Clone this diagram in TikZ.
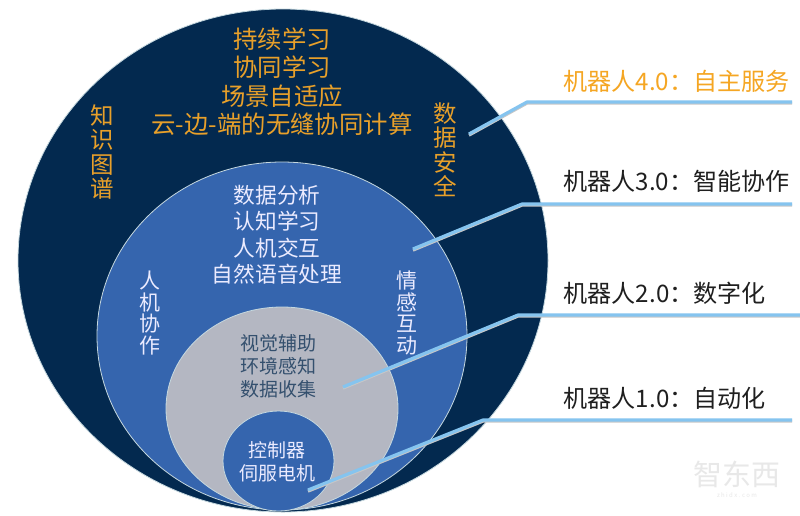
\documentclass[tikz,border=0pt]{standalone}
\usepackage{fontspec}
\setmainfont{Noto Sans CJK SC}
\definecolor{navy}{HTML}{03294F}
\definecolor{midblue}{HTML}{3565AE}
\definecolor{pale}{HTML}{B4B7C2}
\definecolor{gold}{HTML}{E8A02A}
\definecolor{labelgold}{HTML}{F5A623}
\definecolor{sky}{HTML}{85C4EF}
\definecolor{ringline}{HTML}{C5D8DF}
\definecolor{slate}{HTML}{34506E}
\tikzset{
  x=1pt,y=-1pt,
  ring/.style={draw=ringline,line width=0.8pt},
  lead/.style={draw=sky,line width=3.2pt,line join=round},
  leadshadow/.style={draw=black!22,line width=3pt,line join=round},
  gtext/.style={text=gold,font=\fontsize{24.4}{28.5}\selectfont,align=center,inner sep=0pt},
  gvert/.style={text=gold,font=\fontsize{23.5}{24.5}\selectfont,align=center,inner sep=0pt},
  wtext/.style={text=white!92!blue,font=\fontsize{21.7}{26.5}\selectfont,align=center,inner sep=0pt},
  wvert/.style={text=white!92!blue,font=\fontsize{21}{21.5}\selectfont,align=center,inner sep=0pt},
  dtext/.style={font=\fontsize{19}{23}\selectfont,align=center,inner sep=0pt},
  ltext/.style={font=\fontsize{24.1}{26}\selectfont,anchor=east,inner sep=0pt},
}
\begin{document}
\begin{tikzpicture}
\useasboundingbox (0,0) rectangle (800,515);
\fill[white] (0,0) rectangle (800,515);
\draw[ring,fill=navy] (283,260.5) ellipse [x radius=265,y radius=251.5];
\draw[ring,fill=midblue] (282,336) ellipse [x radius=185,y radius=174];
\draw[ring,fill=pale] (282,408.5) ellipse [x radius=116,y radius=101.5];
\draw[ring,fill=midblue] (278.5,461) ellipse [x radius=55.5,y radius=50];
\node[gtext] (t4) at (282,81.5) {持续学习\\协同学习\\场景自适应\\云-边-端的无缝协同计算};
\node[gvert] (k) at (102,152) {知\\识\\图\\谱};
\node[gvert] (d) at (445,149.5) {数\\据\\安\\全};
\node[wtext] (t3) at (277,235) {数据分析\\认知学习\\人机交互\\自然语音处理};
\node[wvert] (r) at (150,313) {人\\机\\协\\作};
\node[wvert] (q) at (407,313) {情\\感\\互\\动};
\node[dtext,text=slate] (t2) at (278,366) {视觉辅助\\环境感知\\数据收集};
\node[dtext,text=white!92!blue] (t1) at (277,462) {控制器\\伺服电机};
\node[ltext,text=labelgold] (l4) at (790,81) {机器人4.0：自主服务};
\node[ltext,text=black!88] (l3) at (790,181) {机器人3.0：智能协作};
\node[ltext,text=black!88] (l2) at (766,293) {机器人2.0：数字化};
\node[ltext,text=black!88] (l1) at (766,398) {机器人1.0：自动化};
\coordinate (a4) at (469,134); \coordinate (b4) at (527,102); \coordinate (c4) at (792,102);
\coordinate (a3) at (413,249); \coordinate (b3) at (522,204); \coordinate (c3) at (792,204);
\coordinate (a2) at (343,387); \coordinate (b2) at (518,315); \coordinate (c2) at (800,315);
\coordinate (a1) at (308,490); \coordinate (b1) at (483,420); \coordinate (c1) at (792,420);
\foreach \p/\q/\r in {a4/b4/c4,a3/b3/c3,a2/b2/c2,a1/b1/c1}{
  \draw[leadshadow] ([yshift=-1.2pt]\p) -- ([yshift=-1.2pt]\q) -- ([yshift=-1.2pt]\r);
  \draw[lead] (\p) -- (\q) -- (\r);
}
\node[text=black!9,font=\fontsize{29}{29}\selectfont,inner sep=0pt] (w) at (737,474) {智东西};
\node[text=black!9,font=\fontsize{6}{6}\selectfont,inner sep=0pt] (w2) at (737,495) {z h i d x . c o m};
\end{tikzpicture}
\end{document}
